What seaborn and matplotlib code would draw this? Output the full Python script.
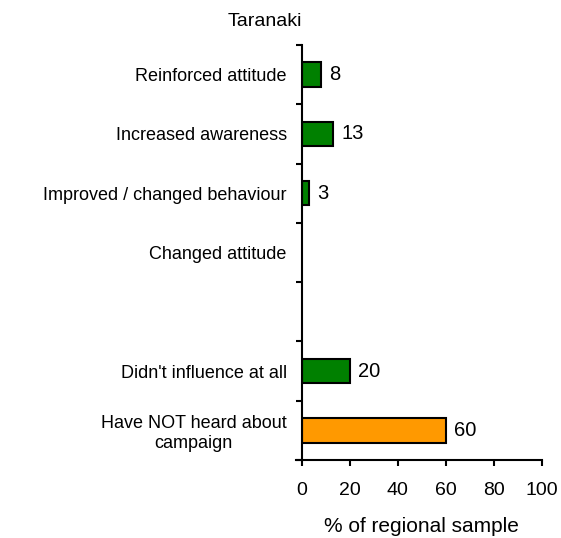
import numpy as np
import pandas as pd
import matplotlib
matplotlib.use("Agg")
import matplotlib.pyplot as plt
import seaborn as sns

# ---- data ----
categories = ["Reinforced attitude", "Increased awareness", "Improved / changed behaviour",
              "Changed attitude", " ", "Didn't influence at all",
              "Have NOT heard about\ncampaign"]
values = [8, 13, 3, np.nan, np.nan, 20, 60]
value_labels = ["8", "13", "3", "", "", "20", "60"]
bar_colors = ["#008000", "#008000", "#008000", "#008000", "#008000", "#008000", "#FF9900"]
x_ticks = [0, 20, 40, 60, 80, 100]
title = "Taranaki"
x_label = "% of regional sample"

sns.set_style("ticks")
plt.rcParams['font.family'] = ['Liberation Sans', 'DejaVu Sans']
plt.rcParams.update({"text.color": "black", "axes.labelcolor": "black",
                     "xtick.color": "black", "ytick.color": "black"})

df = pd.DataFrame({"category": categories, "value": values})

fig = plt.figure(figsize=(5.61, 5.38), dpi=100)
ax = fig.add_axes([302/561, 1-460/538, (541.7-302)/561, (460-45)/538])

palette = dict(zip(categories, bar_colors))
sns.barplot(data=df, y="category", x="value", hue="category", order=categories,
            hue_order=categories, palette=palette, legend=False, width=0.41,
            edgecolor="black", linewidth=1.5, saturation=1, ax=ax, orient="h")

for cont in ax.containers:
    patches = [p for p in cont.patches if p is not None]
    for p in patches:
        yc = p.get_y() + p.get_height() / 2
        idx = int(round(yc))
        lab = value_labels[idx]
        if lab:
            ax.annotate(lab, xy=(p.get_x() + p.get_width(), yc), xytext=(6, 0),
                        textcoords="offset points", ha="left", va="center",
                        fontsize=14.5, color="black")

ax.set_xlim(0, 100)
ax.set_ylim(6.5, -0.5)
ax.set_xticks(x_ticks)
ax.set_xticklabels([str(t) for t in x_ticks], fontsize=14)
ax.tick_params(axis="x", direction="out", length=4.5, width=1.5, pad=11, colors="black")
ax.set_yticks(range(len(categories)))
ax.set_yticklabels(categories, fontsize=13, multialignment="center")
ax.tick_params(axis="y", which="major", length=0, pad=11, colors="black")
ax.set_yticks(np.arange(-0.5, len(categories), 1.0), minor=True)
ax.tick_params(axis="y", which="minor", direction="out", length=4.5, width=1.5, colors="black")

ax.set_xlabel(x_label, fontsize=15, labelpad=13, color="black")
ax.set_ylabel("")
sns.despine(ax=ax)
for s in ["left", "bottom"]:
    ax.spines[s].set_linewidth(1.5)
    ax.spines[s].set_color("black")
ax.spines["bottom"].set_bounds(-2.5, 100)

fig.text(265/561, 1-21/538, title, ha="center", va="center", fontsize=14, color="black")

fig.savefig("out.png", dpi=100)
